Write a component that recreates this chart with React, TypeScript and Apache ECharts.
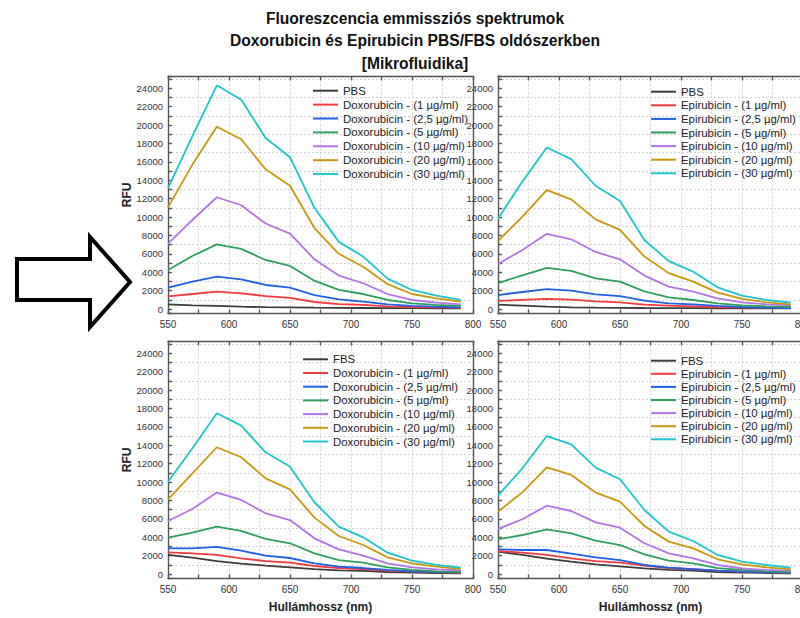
import React, { useEffect, useRef } from "react";
import * as echarts from "echarts";

const wavelengths = [550, 570, 590, 610, 630, 650, 670, 690, 710, 730, 750, 770, 790];

const titleLines = [
  "Fluoreszcencia emmissziós spektrumok",
  "Doxorubicin és Epirubicin PBS/FBS oldószerkben",
  "[Mikrofluidika]",
];

const concLabels = ["(1 µg/ml)", "(2,5 µg/ml)", "(5 µg/ml)", "(10 µg/ml)", "(20 µg/ml)", "(30 µg/ml)"];
const lineColors = ["#3d3d3d", "#f23a3f", "#1f60e6", "#2ea05c", "#b274e6", "#c9980c", "#1dc6cc"];

// Doxorubicin in PBS
const doxPbsBlank = [510, 400, 330, 250, 200, 170, 140, 120, 110, 100, 90, 80, 70];
const doxPbs1 = [1380, 1630, 1880, 1700, 1410, 1200, 760, 540, 440, 290, 220, 180, 150];
const doxPbs2_5 = [2320, 2970, 3510, 3230, 2610, 2320, 1520, 1050, 800, 500, 330, 250, 180];
const doxPbs5 = [4240, 5760, 7030, 6540, 5330, 4680, 3080, 2070, 1630, 980, 620, 440, 330];
const doxPbs10 = [7100, 9680, 12150, 11280, 9300, 8200, 5400, 3630, 2800, 1630, 980, 690, 500];
const doxPbs20 = [11050, 15700, 19820, 18450, 15200, 13400, 8800, 6000, 4600, 2700, 1630, 1160, 800];
const doxPbs30 = [13150, 18800, 24320, 22750, 18600, 16500, 11000, 7300, 5700, 3300, 2070, 1450, 980];

// Epirubicin in PBS
const epiPbsBlank = [470, 360, 250, 180, 150, 130, 110, 100, 90, 80, 70, 60, 60];
const epiPbs1 = [880, 990, 1100, 1010, 830, 730, 470, 360, 290, 220, 180, 150, 140];
const epiPbs2_5 = [1520, 1850, 2170, 1990, 1600, 1410, 900, 620, 500, 330, 220, 150, 110];
const epiPbs5 = [2820, 3660, 4480, 4140, 3340, 2970, 1920, 1270, 980, 620, 400, 290, 220];
const epiPbs10 = [4890, 6420, 8180, 7580, 6200, 5400, 3630, 2430, 1890, 1160, 730, 500, 400];
const epiPbs20 = [7390, 10040, 12920, 11920, 9750, 8600, 5700, 3900, 2970, 1780, 1090, 730, 500];
const epiPbs30 = [9830, 13850, 17560, 16300, 13400, 11750, 7500, 5200, 4060, 2360, 1450, 980, 690];

// Doxorubicin in FBS
const doxFbsBlank = [2070, 1780, 1410, 1120, 910, 730, 540, 400, 330, 220, 150, 110, 70];
const doxFbs1 = [2360, 2250, 2070, 1700, 1410, 1230, 870, 650, 540, 360, 250, 190, 150];
const doxFbs2_5 = [2790, 2790, 2940, 2540, 1990, 1740, 1160, 800, 650, 440, 290, 220, 180];
const doxFbs5 = [3950, 4500, 5150, 4680, 3810, 3340, 2250, 1520, 1230, 730, 440, 290, 220];
const doxFbs10 = [5760, 7070, 8850, 8050, 6600, 5870, 3880, 2680, 1990, 1160, 730, 510, 400];
const doxFbs20 = [8120, 10950, 13780, 12690, 10400, 9200, 6130, 4130, 3150, 1810, 1160, 800, 540];
const doxFbs30 = [10040, 13670, 17480, 16130, 13230, 11670, 7800, 5150, 3990, 2320, 1450, 980, 690];

// Epirubicin in FBS
const epiFbsBlank = [2430, 2070, 1670, 1340, 1050, 830, 620, 440, 360, 220, 150, 110, 70];
const epiFbs1 = [2500, 2320, 2070, 1700, 1410, 1230, 910, 650, 540, 360, 250, 190, 150];
const epiFbs2_5 = [2680, 2610, 2610, 2210, 1810, 1520, 980, 690, 540, 360, 250, 190, 150];
const epiFbs5 = [3770, 4240, 4860, 4420, 3630, 3150, 2140, 1450, 1160, 650, 440, 290, 220];
const epiFbs10 = [4900, 5950, 7430, 6850, 5620, 5040, 3340, 2250, 1700, 980, 620, 440, 330];
const epiFbs20 = [6780, 8880, 11600, 10770, 8850, 7870, 5220, 3520, 2790, 1600, 1050, 730, 510];
const epiFbs30 = [8520, 11500, 15000, 14100, 11570, 10300, 6960, 4600, 3590, 2070, 1340, 980, 690];

const FONT = "'Liberation Sans', Arial, sans-serif";
const Y_MIN = -500;
const Y_MAX = 25300;

const panels = [
  {
    blank: "PBS", drug: "Doxorubicin",
    data: [doxPbsBlank, doxPbs1, doxPbs2_5, doxPbs5, doxPbs10, doxPbs20, doxPbs30],
    grid: { left: 168, top: 76.3, width: 305, height: 237.3 },
    legend: { left: 313, top: 84.7, gap: 1.9 }, yName: true, xName: false,
  },
  {
    blank: "PBS", drug: "Epirubicin",
    data: [epiPbsBlank, epiPbs1, epiPbs2_5, epiPbs5, epiPbs10, epiPbs20, epiPbs30],
    grid: { left: 498, top: 76.3, width: 305, height: 237.3 },
    legend: { left: 651, top: 85.7, gap: 1.6 }, yName: false, xName: false,
  },
  {
    blank: "FBS", drug: "Doxorubicin",
    data: [doxFbsBlank, doxFbs1, doxFbs2_5, doxFbs5, doxFbs10, doxFbs20, doxFbs30],
    grid: { left: 168, top: 341.3, width: 305, height: 237.3 },
    legend: { left: 303, top: 353.3, gap: 1.7 }, yName: true, xName: true,
  },
  {
    blank: "FBS", drug: "Epirubicin",
    data: [epiFbsBlank, epiFbs1, epiFbs2_5, epiFbs5, epiFbs10, epiFbs20, epiFbs30],
    grid: { left: 498, top: 341.3, width: 305, height: 237.3 },
    legend: { left: 651, top: 354.7, gap: 1.1 }, yName: false, xName: true,
  },
];

const axisLineStyle = { color: "#555", width: 1.4 };
const gridLineStyle = { color: "#c8c8c8", width: 0.8, type: [2, 2] as any };

function buildOption() {
  const grid: any[] = [];
  const xAxis: any[] = [];
  const yAxis: any[] = [];
  const series: any[] = [];
  const legend: any[] = [];

  panels.forEach((p, pi) => {
    grid.push({ ...p.grid, containLabel: false, outerBoundsMode: "none" });
    xAxis.push({
      type: "value", gridIndex: pi, position: "bottom", min: 550, max: 800, interval: 25,
      axisLine: { show: true, onZero: false, lineStyle: axisLineStyle },
      axisTick: { show: true, inside: true, length: 4, lineStyle: axisLineStyle },
      axisLabel: {
        margin: 6, fontSize: 10, color: "#333", fontFamily: FONT,
        formatter: (v: number) => (v % 50 === 0 ? String(v) : ""),
      },
      splitLine: { show: true, lineStyle: gridLineStyle },
      name: p.xName ? "Hullámhossz (nm)" : "",
      nameLocation: "middle", nameGap: 22,
      nameTextStyle: { fontSize: 12, fontWeight: "bold", color: "#222", fontFamily: FONT },
    });
    xAxis.push({
      type: "value", gridIndex: pi, position: "top", min: 550, max: 800, interval: 25,
      axisLine: { show: true, onZero: false, lineStyle: axisLineStyle },
      axisTick: { show: true, inside: true, length: 4, lineStyle: axisLineStyle },
      axisLabel: { show: false }, splitLine: { show: false },
    });
    yAxis.push({
      type: "value", gridIndex: pi, position: "left", min: Y_MIN, max: Y_MAX,
      minInterval: 1000, maxInterval: 1000, splitNumber: 26,
      axisLine: { show: true, onZero: false, lineStyle: axisLineStyle },
      axisTick: { show: true, inside: true, length: 4, lineStyle: axisLineStyle },
      axisLabel: {
        margin: 5, fontSize: 9.5, color: "#333", fontFamily: FONT,
        formatter: (v: number) => (v >= 0 && v % 2000 === 0 ? String(v) : ""),
      },
      splitLine: { show: false },
      name: p.yName ? "RFU" : "",
      nameLocation: "middle", nameGap: 35,
      nameTextStyle: { fontSize: 12, fontWeight: "bold", color: "#222", fontFamily: FONT },
    });
    yAxis.push({
      type: "value", gridIndex: pi, position: "right", min: Y_MIN, max: Y_MAX,
      axisLine: { show: true, onZero: false, lineStyle: axisLineStyle },
      axisTick: { show: false }, axisLabel: { show: false }, splitLine: { show: false },
    });
    // gridline axis: shifted by 1000 so that its ticks fall on odd thousands
    yAxis.push({
      type: "value", gridIndex: pi, position: "right", min: Y_MIN - 1000, max: Y_MAX - 1000,
      minInterval: 2000, maxInterval: 2000, splitNumber: 13,
      axisLine: { show: false }, axisTick: { show: false }, axisLabel: { show: false },
      splitLine: { show: true, lineStyle: gridLineStyle },
    });

    const names = [p.blank, ...concLabels.map((c) => `${p.drug} - ${c}`)];
    names.forEach((name, si) => {
      series.push({
        type: "line", name, xAxisIndex: pi * 2, yAxisIndex: pi * 3,
        data: wavelengths.map((w, i) => [w, p.data[si][i]]),
        symbol: "none", showSymbol: false,
        lineStyle: { width: 1.8, color: lineColors[si] },
        itemStyle: { color: lineColors[si] },
        z: 3 + si,
      });
    });
    legend.push({
      data: names, orient: "vertical", left: p.legend.left, top: p.legend.top,
      padding: 0, itemGap: p.legend.gap, itemWidth: 25, itemHeight: 2, icon: "rect",
      selectedMode: false,
      textStyle: { fontSize: 11.4, color: "#222", fontFamily: FONT, lineHeight: 12 },
    });
  });

  return {
    animation: false,
    backgroundColor: "#fff",
    textStyle: { fontFamily: FONT },
    title: {
      text: titleLines.join("\n"), left: 410, top: 2, textAlign: "center",
      textStyle: { fontSize: 15.6, fontWeight: "bold", color: "#111", lineHeight: 22.5, fontFamily: FONT },
    },
    graphic: [
      {
        type: "polygon",
        shape: { points: [[17, 259], [90, 259], [90, 237], [130, 282], [90, 327], [90, 300], [17, 300]] },
        style: { fill: "#fff", stroke: "#000", lineWidth: 4, lineJoin: "miter" },
      },
    ],
    grid, xAxis, yAxis, series, legend,
  };
}

export default function App() {
  const ref = useRef<HTMLDivElement>(null);
  useEffect(() => {
    document.body.style.margin = "0";
    const chart = echarts.init(ref.current!, undefined, { renderer: "svg" });
    chart.setOption(buildOption() as any);
    return () => chart.dispose();
  }, []);
  return <div ref={ref} style={{ width: 800, height: 618 }} />;
}
